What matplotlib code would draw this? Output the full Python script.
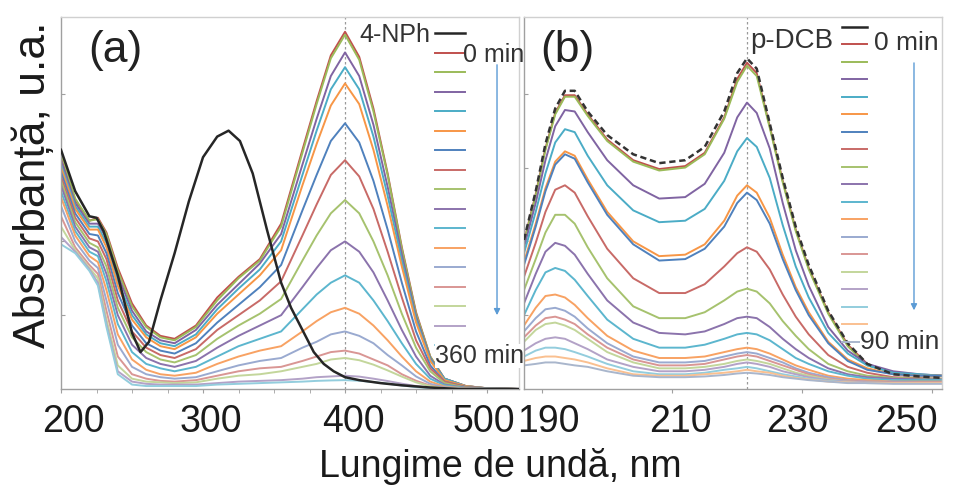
import matplotlib.pyplot as plt
import matplotlib.transforms as mtransforms
from matplotlib.lines import Line2D
from matplotlib.ticker import MultipleLocator

plt.rcParams['font.family'] = ['Liberation Sans', 'DejaVu Sans']

# ---- (a) 4-nitrophenol reduction, 0 -> 360 min ----
wl_nph = [200, 210, 220, 225, 230, 240, 250, 256, 262, 270, 280, 290, 300, 310, 318, 326,
          335, 345, 355, 362, 370, 378, 385, 392, 400, 410, 425, 440, 460, 480, 500, 523]
nph = [1.62, 1.34, 1.17, 1.16, 1.07, 0.77, 0.38, 0.25, 0.32, 0.60, 0.92, 1.27, 1.57, 1.71, 1.75, 1.68,
       1.46, 1.08, 0.72, 0.55, 0.40, 0.25, 0.17, 0.12, 0.08, 0.06, 0.04, 0.025, 0.01, 0.0, 0.0, 0.0]

wl_a = [200, 210, 220, 226, 232, 240, 250, 260, 270, 280, 295, 310, 325, 340, 355,
        370, 380, 390, 400, 410, 420, 430, 440, 450, 460, 470, 485, 500, 523]
a00 = [1.58, 1.28, 1.14, 1.16, 1.06, 0.82, 0.58, 0.43, 0.36, 0.34, 0.43, 0.62, 0.76, 0.88, 1.12,
       1.62, 1.95, 2.26, 2.42, 2.25, 1.90, 1.46, 0.96, 0.52, 0.22, 0.07, 0.02, 0.005, 0.0]
a01 = [1.60, 1.29, 1.14, 1.15, 1.05, 0.80, 0.56, 0.42, 0.35, 0.33, 0.42, 0.60, 0.75, 0.87, 1.10,
       1.60, 1.93, 2.24, 2.40, 2.23, 1.88, 1.45, 0.95, 0.51, 0.22, 0.07, 0.02, 0.005, 0.0]
a02 = [1.55, 1.26, 1.12, 1.12, 1.02, 0.77, 0.53, 0.39, 0.33, 0.31, 0.40, 0.57, 0.71, 0.85, 1.05,
       1.52, 1.83, 2.12, 2.28, 2.12, 1.79, 1.37, 0.91, 0.49, 0.21, 0.07, 0.02, 0.005, 0.0]
a03 = [1.52, 1.24, 1.10, 1.10, 0.99, 0.73, 0.50, 0.37, 0.31, 0.29, 0.37, 0.54, 0.68, 0.81, 1.00,
       1.45, 1.75, 2.03, 2.18, 2.03, 1.71, 1.31, 0.87, 0.47, 0.20, 0.07, 0.02, 0.004, 0.0]
a04 = [1.50, 1.22, 1.08, 1.08, 0.96, 0.70, 0.47, 0.35, 0.29, 0.27, 0.35, 0.51, 0.64, 0.77, 0.94,
       1.38, 1.66, 1.92, 2.07, 1.93, 1.62, 1.24, 0.83, 0.45, 0.19, 0.06, 0.02, 0.004, 0.0]
a05 = [1.47, 1.19, 1.05, 1.04, 0.92, 0.65, 0.43, 0.31, 0.26, 0.24, 0.31, 0.45, 0.57, 0.69, 0.84,
       1.21, 1.45, 1.68, 1.80, 1.67, 1.41, 1.08, 0.72, 0.39, 0.16, 0.05, 0.015, 0.004, 0.0]
a06 = [1.44, 1.16, 1.02, 1.00, 0.88, 0.60, 0.39, 0.28, 0.23, 0.21, 0.27, 0.40, 0.50, 0.60, 0.73,
       1.04, 1.25, 1.45, 1.55, 1.44, 1.22, 0.93, 0.62, 0.33, 0.14, 0.05, 0.012, 0.003, 0.0]
a07 = [1.41, 1.13, 0.99, 0.96, 0.83, 0.55, 0.35, 0.25, 0.20, 0.18, 0.23, 0.34, 0.43, 0.51, 0.61,
       0.87, 1.04, 1.19, 1.28, 1.19, 1.00, 0.77, 0.51, 0.28, 0.12, 0.04, 0.01, 0.003, 0.0]
a08 = [1.38, 1.10, 0.96, 0.93, 0.78, 0.50, 0.30, 0.21, 0.17, 0.15, 0.19, 0.28, 0.36, 0.43, 0.50,
       0.69, 0.82, 0.94, 1.00, 0.93, 0.79, 0.60, 0.40, 0.22, 0.09, 0.03, 0.008, 0.002, 0.0]
a09 = [1.34, 1.07, 0.93, 0.90, 0.73, 0.44, 0.25, 0.17, 0.14, 0.12, 0.15, 0.22, 0.29, 0.34, 0.39,
       0.54, 0.64, 0.72, 0.77, 0.72, 0.60, 0.46, 0.31, 0.17, 0.07, 0.025, 0.006, 0.002, 0.0]
a10 = [1.30, 1.04, 0.90, 0.86, 0.67, 0.37, 0.20, 0.13, 0.10, 0.09, 0.11, 0.17, 0.22, 0.26, 0.29,
       0.39, 0.46, 0.52, 0.55, 0.51, 0.43, 0.33, 0.22, 0.12, 0.05, 0.017, 0.004, 0.001, 0.0]
a11 = [1.24, 1.00, 0.87, 0.82, 0.60, 0.30, 0.15, 0.10, 0.08, 0.07, 0.08, 0.12, 0.16, 0.19, 0.21,
       0.28, 0.32, 0.37, 0.39, 0.36, 0.31, 0.23, 0.16, 0.085, 0.035, 0.012, 0.003, 0.001, 0.0]
a12 = [1.17, 0.96, 0.84, 0.78, 0.53, 0.22, 0.10, 0.07, 0.055, 0.05, 0.06, 0.09, 0.12, 0.14, 0.15,
       0.19, 0.22, 0.25, 0.26, 0.24, 0.20, 0.16, 0.10, 0.056, 0.023, 0.008, 0.002, 0.0, 0.0]
a13 = [1.10, 0.94, 0.82, 0.75, 0.47, 0.16, 0.07, 0.05, 0.045, 0.04, 0.045, 0.07, 0.09, 0.10, 0.12,
       0.15, 0.17, 0.20, 0.21, 0.195, 0.165, 0.126, 0.084, 0.045, 0.019, 0.006, 0.002, 0.0, 0.0]
a14 = [1.03, 0.93, 0.81, 0.72, 0.44, 0.12, 0.05, 0.035, 0.03, 0.03, 0.03, 0.04, 0.05, 0.055, 0.06,
       0.07, 0.08, 0.085, 0.09, 0.084, 0.07, 0.054, 0.036, 0.02, 0.008, 0.003, 0.001, 0.0, 0.0]
a15 = [0.98, 0.92, 0.80, 0.70, 0.42, 0.10, 0.03, 0.02, 0.02, 0.02, 0.02, 0.03, 0.035, 0.04, 0.045,
       0.05, 0.055, 0.058, 0.06, 0.056, 0.047, 0.036, 0.024, 0.013, 0.005, 0.002, 0.0, 0.0, 0.0]

# ---- (b) p-dichlorobenzene degradation, 0 -> 90 min ----
wl_b = [187.2, 189, 190.5, 192, 193.5, 195, 197, 200, 204, 208, 212, 215, 218,
        220, 221.5, 223, 225, 227, 229, 231, 234, 237, 240, 244, 248, 251.5]
dcb = [1.01, 1.34, 1.66, 1.90, 2.02, 2.02, 1.88, 1.72, 1.59, 1.53, 1.55, 1.64, 1.88,
       2.14, 2.24, 2.17, 1.80, 1.43, 1.10, 0.84, 0.53, 0.31, 0.17, 0.10, 0.085, 0.075]
b00 = [1.00, 1.32, 1.63, 1.87, 1.99, 1.99, 1.86, 1.69, 1.55, 1.49, 1.51, 1.60, 1.84,
       2.10, 2.21, 2.14, 1.78, 1.41, 1.08, 0.82, 0.52, 0.30, 0.17, 0.11, 0.095, 0.09]
b01 = [0.99, 1.31, 1.62, 1.86, 1.98, 1.98, 1.85, 1.68, 1.54, 1.48, 1.50, 1.59, 1.83,
       2.08, 2.19, 2.12, 1.77, 1.40, 1.07, 0.81, 0.51, 0.29, 0.16, 0.11, 0.095, 0.09]
b02 = [0.96, 1.26, 1.55, 1.78, 1.89, 1.88, 1.74, 1.55, 1.38, 1.29, 1.30, 1.39, 1.60,
       1.84, 1.94, 1.87, 1.63, 1.26, 0.94, 0.70, 0.42, 0.26, 0.17, 0.12, 0.10, 0.09]
b03 = [0.92, 1.20, 1.46, 1.67, 1.76, 1.74, 1.58, 1.38, 1.21, 1.13, 1.14, 1.22, 1.41,
       1.61, 1.70, 1.64, 1.43, 1.11, 0.83, 0.62, 0.38, 0.24, 0.16, 0.11, 0.10, 0.09]
b04 = [0.86, 1.12, 1.36, 1.54, 1.61, 1.58, 1.42, 1.20, 1.00, 0.90, 0.91, 0.98, 1.14,
       1.31, 1.38, 1.33, 1.16, 0.91, 0.69, 0.52, 0.32, 0.20, 0.14, 0.10, 0.09, 0.09]
b05 = [0.84, 1.10, 1.34, 1.52, 1.59, 1.56, 1.40, 1.18, 0.98, 0.87, 0.88, 0.95, 1.10,
       1.26, 1.33, 1.28, 1.12, 0.88, 0.67, 0.50, 0.31, 0.19, 0.13, 0.10, 0.09, 0.09]
b06 = [0.76, 0.99, 1.20, 1.35, 1.38, 1.33, 1.17, 0.95, 0.75, 0.65, 0.65, 0.71, 0.83,
       0.92, 0.96, 0.93, 0.81, 0.64, 0.49, 0.37, 0.23, 0.15, 0.11, 0.08, 0.075, 0.07]
b07 = [0.67, 0.88, 1.06, 1.18, 1.18, 1.12, 0.96, 0.75, 0.56, 0.48, 0.48, 0.52, 0.60,
       0.66, 0.68, 0.66, 0.58, 0.46, 0.36, 0.27, 0.17, 0.12, 0.09, 0.075, 0.07, 0.07]
b08 = [0.58, 0.78, 0.93, 0.99, 0.97, 0.91, 0.78, 0.60, 0.45, 0.38, 0.37, 0.39, 0.44,
       0.48, 0.49, 0.48, 0.42, 0.34, 0.27, 0.21, 0.14, 0.10, 0.08, 0.07, 0.065, 0.065]
b09 = [0.50, 0.67, 0.79, 0.82, 0.80, 0.74, 0.63, 0.47, 0.34, 0.28, 0.28, 0.30, 0.34,
       0.37, 0.38, 0.37, 0.33, 0.27, 0.21, 0.17, 0.12, 0.09, 0.07, 0.06, 0.06, 0.06]
b10 = [0.43, 0.55, 0.63, 0.64, 0.62, 0.57, 0.48, 0.36, 0.26, 0.21, 0.21, 0.22, 0.25,
       0.27, 0.28, 0.27, 0.24, 0.20, 0.16, 0.13, 0.09, 0.07, 0.06, 0.05, 0.05, 0.05]
b11 = [0.39, 0.48, 0.54, 0.55, 0.53, 0.49, 0.41, 0.31, 0.22, 0.18, 0.18, 0.19, 0.22,
       0.24, 0.25, 0.24, 0.21, 0.18, 0.14, 0.11, 0.08, 0.06, 0.05, 0.05, 0.045, 0.045]
b12 = [0.35, 0.43, 0.48, 0.49, 0.47, 0.44, 0.37, 0.28, 0.20, 0.16, 0.16, 0.17, 0.20,
       0.22, 0.23, 0.22, 0.19, 0.16, 0.13, 0.10, 0.07, 0.055, 0.05, 0.045, 0.045, 0.045]
b13 = [0.32, 0.40, 0.44, 0.45, 0.43, 0.40, 0.34, 0.25, 0.18, 0.14, 0.14, 0.15, 0.17,
       0.19, 0.20, 0.19, 0.17, 0.14, 0.11, 0.09, 0.065, 0.05, 0.045, 0.04, 0.04, 0.04]
b14 = [0.26, 0.31, 0.34, 0.35, 0.34, 0.31, 0.27, 0.20, 0.15, 0.12, 0.12, 0.13, 0.15,
       0.17, 0.18, 0.17, 0.15, 0.12, 0.10, 0.08, 0.06, 0.05, 0.045, 0.04, 0.04, 0.04]
b15 = [0.22, 0.26, 0.28, 0.28, 0.27, 0.25, 0.22, 0.17, 0.12, 0.10, 0.10, 0.11, 0.13,
       0.14, 0.15, 0.14, 0.12, 0.10, 0.085, 0.07, 0.055, 0.045, 0.04, 0.04, 0.04, 0.04]
b16 = [0.19, 0.21, 0.22, 0.22, 0.21, 0.20, 0.18, 0.14, 0.10, 0.09, 0.09, 0.10, 0.11,
       0.12, 0.13, 0.12, 0.11, 0.09, 0.075, 0.065, 0.05, 0.045, 0.04, 0.04, 0.04, 0.04]
b17 = [0.16, 0.17, 0.18, 0.18, 0.17, 0.16, 0.15, 0.12, 0.09, 0.08, 0.08, 0.085, 0.095,
       0.105, 0.11, 0.105, 0.095, 0.08, 0.07, 0.06, 0.05, 0.04, 0.04, 0.035, 0.035, 0.035]

series_colors = ['#C0504D', '#9BBB59', '#8064A2', '#4BACC6', '#F79646', '#4F81BD',
                 '#C86A67', '#A6C26E', '#8B73AC', '#5CB6CE', '#F8A263', '#9AAAD0',
                 '#D99694', '#C3D69B', '#B3A2C7', '#93CDDD', '#FAC090', '#A9B6CC']

ticks_a = [200, 300, 400, 500]
ticks_b = [190, 210, 230, 250]

a_series = [a00, a01, a02, a03, a04, a05, a06, a07, a08, a09, a10, a11, a12, a13, a14, a15]
b_series = [b00, b01, b02, b03, b04, b05, b06, b07, b08, b09, b10, b11, b12, b13, b14, b15, b16, b17]

W, H = 954, 486
fig = plt.figure(figsize=(W / 100, H / 100), dpi=100)
ax_a = fig.add_axes([61 / W, 97 / H, 458 / W, 372 / H])
ax_b = fig.add_axes([524 / W, 97 / H, 418 / W, 372 / H])
ax_b.patch.set_visible(False)


def key_legend(ax, handles, x0, y_top, pitch_px, length_px):
    # handles only, stacked at a fixed pitch; the text is added separately
    fs = 2.0
    pitch_pt = pitch_px * 72 / fig.dpi
    hh = (pitch_pt / fs - 0.245) / 0.65
    ax.legend(handles, [''] * len(handles), loc='upper left', bbox_to_anchor=(x0, y_top),
              frameon=False, fontsize=fs, handlelength=length_px * 72 / fig.dpi / fs,
              handleheight=hh, handletextpad=0, labelspacing=0,
              borderpad=0, borderaxespad=0)


def style_axes(ax):
    for side in ['top', 'right']:
        ax.spines[side].set_color('#d0d0d0')
    for side in ['left', 'bottom']:
        ax.spines[side].set_color('#a0a0a0')
    for sp in ax.spines.values():
        sp.set_linewidth(1.0)
    ax.set_ylim(0, 2.52)
    ax.set_yticks([0.5, 1.0, 1.5, 2.0])
    ax.set_yticklabels([])
    ax.tick_params(axis='y', direction='in', length=3, color='#a0a0a0')
    ax.tick_params(axis='x', which='both', direction='out', length=3, color='#a0a0a0',
                   pad=8, labelcolor='#1a1a1a')


def nudge_labels(ax, shifts_px):
    for lbl, dx in zip(ax.get_xticklabels(), shifts_px):
        off = mtransforms.ScaledTranslation(dx / fig.dpi, 0, fig.dpi_scale_trans)
        lbl.set_transform(lbl.get_transform() + off)


# panel (a)
lines_a = []
for vals, col in zip(a_series, series_colors):
    ln, = ax_a.plot(wl_a, vals, color=col, lw=1.4)
    lines_a.append(ln)
nph_line, = ax_a.plot(wl_nph, nph, color='#262626', lw=1.8, zorder=3)
ax_a.axvline(400, color='#9a9a9a', ls=(0, (2, 2)), lw=0.9, zorder=0.5)
ax_a.set_xlim(200, 522.5)
style_axes(ax_a)
ax_a.set_xticks(ticks_a, labels=[str(t) for t in ticks_a], fontsize=27)
ax_a.xaxis.set_minor_locator(MultipleLocator(25))
nudge_labels(ax_a, [12, 8, 8, -3])

key_legend(ax_a, [nph_line] + lines_a, 0.817, 0.970, 19.5, 30)
ax_a.text(0.806, 0.952, '4-NPh', transform=ax_a.transAxes, ha='right', va='center',
          fontsize=18, color='#333333')
ax_a.text(0.878, 0.898, '0 min', transform=ax_a.transAxes, ha='left', va='center',
          fontsize=18, color='#333333', zorder=6)
ax_a.text(0.817, 0.089, '360 min', transform=ax_a.transAxes, ha='left', va='center',
          fontsize=18, color='#333333', zorder=6,
          bbox=dict(facecolor='white', edgecolor='none', pad=0))
ax_a.annotate('', xy=(0.952, 0.191), xytext=(0.952, 0.879), xycoords='axes fraction',
              arrowprops=dict(arrowstyle='-|>', color='#5B9BD5', lw=1, mutation_scale=9))
ax_a.text(0.118, 0.909, '(a)', transform=ax_a.transAxes, ha='center', va='center',
          fontsize=32, color='#222222')

# panel (b)
lines_b = []
for vals, col in zip(b_series, series_colors):
    ln, = ax_b.plot(wl_b, vals, color=col, lw=1.4)
    lines_b.append(ln)
ax_b.plot(wl_b, dcb, color='#333333', lw=1.8, ls=(0, (2.5, 1.5)), zorder=3)
ax_b.axvline(221.5, color='#9a9a9a', ls=(0, (2, 2)), lw=0.9, zorder=0.5)
ax_b.set_xlim(187.2, 251.5)
style_axes(ax_b)
ax_b.set_xticks(ticks_b, labels=[str(t) for t in ticks_b], fontsize=27)
ax_b.get_xticklabels()[-1].set_horizontalalignment('right')
nudge_labels(ax_b, [6, 8, -5, 6])

dcb_key = Line2D([], [], color='#262626', lw=1.8)
key_legend(ax_b, [dcb_key] + lines_b, 0.761, 0.9855, 17.5, 25)
ax_b.text(0.739, 0.935, 'p-DCB', transform=ax_b.transAxes, ha='right', va='center',
          fontsize=20, color='#333333')
ax_b.text(0.837, 0.930, '0 min', transform=ax_b.transAxes, ha='left', va='center',
          fontsize=19, color='#333333', zorder=6)
ax_b.text(0.804, 0.126, '90 min', transform=ax_b.transAxes, ha='left', va='center',
          fontsize=19, color='#333333', zorder=6,
          bbox=dict(facecolor='white', edgecolor='none', pad=0))
ax_b.annotate('', xy=(0.933, 0.204), xytext=(0.933, 0.884), xycoords='axes fraction',
              arrowprops=dict(arrowstyle='-|>', color='#5B9BD5', lw=1, mutation_scale=9))
ax_b.text(0.103, 0.911, '(b)', transform=ax_b.transAxes, ha='center', va='center',
          fontsize=32, color='#222222')

fig.text(33 / W, 1 - 185 / H, 'Absorbanță, u.a.', rotation=90, ha='center', va='center',
         fontsize=32, color='#1a1a1a')
fig.text(500 / W, 1 - 477 / H, 'Lungime de undă, nm', ha='center', va='baseline',
         fontsize=27, color='#1a1a1a')

fig.savefig('out.png', dpi=100)
